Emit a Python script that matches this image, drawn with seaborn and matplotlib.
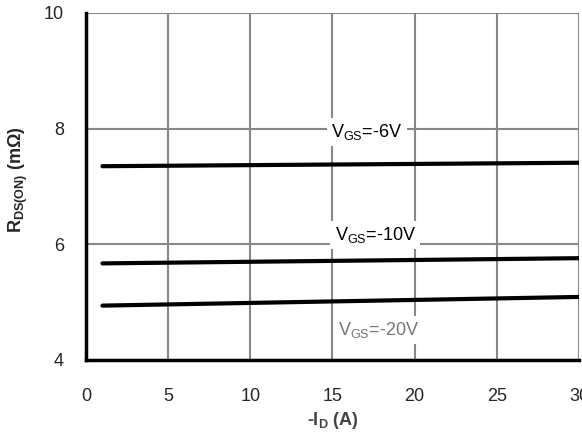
import pandas as pd
import matplotlib
matplotlib.use("Agg")
import matplotlib.pyplot as plt
import seaborn as sns

# values
current = [1, 30]
vgs_6 = [7.35, 7.41]
vgs_10 = [5.67, 5.76]
vgs_20 = [4.94, 5.09]
labels = ["V$_\\mathregular{GS}$=-6V", "V$_\\mathregular{GS}$=-10V", "V$_\\mathregular{GS}$=-20V"]
label_x = [17.1, 17.6, 17.8]
label_y = [7.94, 6.16, 4.52]
label_colors = ["black", "black", "#777777"]

df = pd.DataFrame({
    "id": current * 3,
    "rds": vgs_6 + vgs_10 + vgs_20,
    "vgs": ["-6V"] * 2 + ["-10V"] * 2 + ["-20V"] * 2,
})

sns.set_style("white")
plt.rcParams["font.family"] = ["Liberation Sans", "DejaVu Sans"]

fig = plt.figure(figsize=(5.82, 4.41), dpi=100)
ax = fig.add_axes([0.1478, 0.1837, 0.847, 0.787])

sns.lineplot(data=df, x="id", y="rds", hue="vgs", palette=["black"] * 3,
             linewidth=3, legend=False, ax=ax, zorder=3)

ax.set_xlim(0, 30)
ax.set_ylim(4, 10)
ax.set_xticks(range(0, 31, 5))
ax.set_yticks([4, 6, 8, 10])
ax.grid(True, color="#888888", linewidth=1.5)
ax.set_axisbelow(True)
ax.tick_params(axis="both", length=0, labelsize=13)
ax.tick_params(axis="x", pad=20)
ax.tick_params(axis="y", pad=16)

for side in ["top", "right"]:
    ax.spines[side].set_visible(False)
for side in ["left", "bottom"]:
    ax.spines[side].set_color("black")
    ax.spines[side].set_linewidth(2.5)

for txt, x, y, c in zip(labels, label_x, label_y, label_colors):
    ax.text(x, y, txt, ha="center", va="center", fontsize=13, color=c, zorder=4,
            bbox=dict(facecolor="white", edgecolor="none", pad=3))

ax.set_xlabel("-I$_\\mathregular{D}$ (A)", fontsize=13, fontweight="bold", color="#444444", labelpad=4)
ax.set_ylabel("R$_\\mathregular{DS(ON)}$ (m$\\mathregular{\\Omega}$)", fontsize=13, fontweight="bold")
ax.yaxis.set_label_coords(-0.113, 0.52)

fig.savefig("out.png", dpi=100)
